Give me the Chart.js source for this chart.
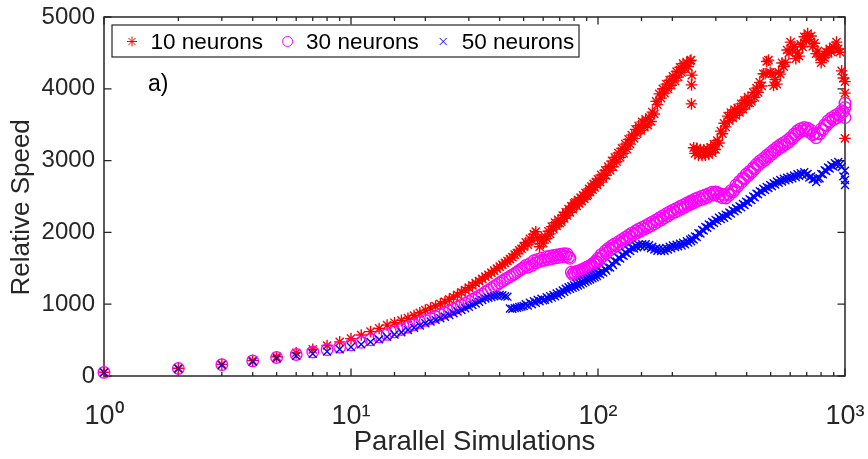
<!DOCTYPE html>
<html><head><meta charset="utf-8">
<script src="https://cdn.jsdelivr.net/npm/chart.js@4.4.1/dist/chart.umd.min.js"></script>
<style>html,body{margin:0;padding:0;background:#fff;}canvas{display:block;}</style>
</head><body>
<canvas id="c" width="868" height="459"></canvas>
<script>
// ---------------- data ----------------
const simulations = [
  1,2,3,4,5,6,7,8,9,10,
  11,12,13,14,15,16,17,18,19,20,
  21,22,23,24,25,26,27,28,29,30,
  31,32,33,34,35,36,37,38,39,40,
  41,42,43,44,45,46,47,48,49,50,
  51,52,53,54,55,56,57,58,59,60,
  61,62,63,64,65,66,67,68,69,70,
  71,72,73,74,75,76,77,78,79,80,
  81,82,83,84,85,86,87,88,89,90,
  91,92,93,94,95,96,97,98,99,100,
  102,103,105,107,108,110,112,114,115,117,
  119,121,123,125,127,129,131,133,135,137,
  140,142,144,146,149,151,154,156,159,161,
  164,166,169,172,174,177,180,183,186,189,
  192,195,198,201,205,208,211,215,218,221,
  225,229,232,236,238,240,244,247,251,255,
  260,264,268,272,277,281,286,290,295,299,
  304,309,314,319,324,329,335,340,345,351,
  357,362,368,374,380,386,392,398,405,411,
  418,425,431,438,445,452,460,467,475,482,
  490,498,506,514,522,530,539,547,556,565,
  574,583,593,602,612,622,632,642,652,662,
  673,684,695,706,717,729,740,752,764,776,
  789,801,814,827,840,854,867,881,895,910,
  924,939,954,969,985,1000
];
const speed10 = [
  52,108,162,215,268,322,372,425,475,520,
  570,618,662,708,742,775,805,842,880,918,
  945,975,1005,1035,1068,1100,1130,1165,1198,1230,
  1262,1295,1322,1352,1383,1410,1440,1468,1495,1522,
  1550,1575,1602,1628,1655,1690,1712,1750,1772,1805,
  1860,1830,1910,1885,1975,2010,1925,1800,1885,1850,
  1945,1915,2015,1980,2080,2045,2135,2090,2175,2130,
  2150,2235,2195,2280,2235,2325,2280,2365,2325,2405,
  2420,2370,2450,2400,2485,2435,2515,2465,2550,2510,
  2525,2605,2560,2640,2595,2675,2625,2705,2660,2740,
  2700,2800,2750,2865,2795,2915,2865,2995,2915,3045,
  2985,3105,3045,3170,3100,3230,3160,3295,3230,3355,
  3310,3435,3375,3485,3420,3540,3465,3575,3495,3600,
  3545,3675,3650,3825,3780,3930,3870,4000,3940,4065,
  4000,4120,4050,4175,4110,4240,4165,4300,4230,4350,
  4280,4365,4310,4390,4400,4190,3180,3100,3170,3075,
  3155,3070,3150,3075,3160,3085,3185,3110,3225,3155,
  3280,3245,3410,3375,3520,3470,3620,3555,3670,3595,
  3710,3630,3730,3670,3790,3715,3840,3765,3885,3805,
  3825,3950,3880,4010,3950,4090,4040,4210,4210,4380,
  4400,4230,4210,4045,4130,4065,4230,4205,4360,4310,
  4370,4540,4500,4650,4545,4590,4420,4500,4455,4620,
  4585,4725,4675,4770,4685,4735,4590,4635,4490,4525,
  4445,4365,4445,4435,4515,4495,4555,4515,4585,4565,
  4650,4555,4510,4250,4150,4100
];
const speed10ExtraX = [239, 239, 1000, 1000];
const speed10ExtraY = [4055, 3790, 3940, 3310];

const speed30 = [
  50,105,158,210,258,300,335,368,402,435,
  470,505,545,580,615,648,680,712,745,775,
  800,828,855,880,905,932,958,985,1010,1040,
  1065,1090,1115,1140,1170,1195,1220,1248,1272,1298,
  1320,1345,1365,1385,1405,1425,1448,1470,1490,1510,
  1540,1515,1565,1540,1605,1575,1625,1595,1640,1610,
  1615,1660,1625,1670,1635,1680,1645,1686,1650,1690,
  1695,1660,1705,1668,1700,1655,1640,1445,1415,1440,
  1415,1455,1430,1468,1443,1482,1460,1498,1476,1515,
  1490,1530,1508,1550,1528,1572,1555,1600,1585,1640,
  1635,1690,1675,1740,1710,1775,1755,1815,1785,1840,
  1815,1870,1845,1900,1875,1930,1905,1960,1935,1990,
  1970,2020,1995,2045,2020,2070,2045,2095,2070,2120,
  2095,2145,2120,2175,2145,2200,2175,2230,2205,2260,
  2230,2285,2260,2310,2285,2335,2305,2360,2330,2380,
  2355,2410,2380,2430,2395,2440,2415,2465,2435,2485,
  2455,2505,2470,2520,2490,2540,2515,2560,2525,2565,
  2555,2505,2535,2485,2520,2480,2540,2520,2580,2565,
  2595,2660,2645,2710,2695,2760,2745,2810,2790,2850,
  2835,2900,2885,2950,2935,2995,2975,3030,3010,3070,
  3050,3110,3090,3150,3130,3185,3165,3220,3195,3250,
  3225,3280,3260,3320,3305,3370,3355,3415,3390,3445,
  3415,3460,3420,3450,3395,3420,3360,3375,3320,3380,
  3370,3440,3430,3500,3490,3555,3535,3595,3570,3625,
  3595,3650,3630,3695,3680,3740
];
const speed30ExtraX = [1000, 1000];
const speed30ExtraY = [3600, 3800];

const speed50 = [
  48,100,152,200,245,280,310,340,372,405,
  440,475,510,545,578,610,640,672,703,734,
  758,782,805,826,850,875,898,920,943,965,
  988,1010,1035,1058,1080,1090,1100,1110,1120,1128,
  1125,1110,1105,940,935,945,950,960,968,975,
  1000,980,1020,1000,1040,1020,1060,1040,1078,1056,
  1062,1098,1075,1113,1091,1130,1109,1148,1127,1167,
  1149,1191,1173,1215,1197,1235,1213,1251,1228,1265,
  1243,1281,1259,1297,1275,1314,1293,1332,1311,1350,
  1328,1366,1344,1382,1360,1398,1376,1414,1392,1430,
  1417,1455,1442,1489,1467,1515,1510,1565,1547,1600,
  1595,1645,1635,1685,1675,1720,1705,1755,1740,1785,
  1775,1815,1793,1830,1805,1837,1808,1837,1800,1823,
  1780,1800,1760,1780,1745,1772,1740,1771,1745,1783,
  1760,1800,1780,1817,1795,1830,1805,1841,1817,1855,
  1835,1877,1857,1900,1877,1915,1900,1945,1935,1990,
  1985,2035,2025,2075,2065,2110,2100,2145,2130,2175,
  2160,2205,2185,2225,2205,2247,2233,2277,2263,2310,
  2295,2337,2321,2365,2350,2395,2381,2427,2415,2462,
  2450,2500,2490,2540,2530,2575,2563,2607,2590,2633,
  2617,2660,2643,2685,2667,2709,2690,2730,2709,2747,
  2725,2763,2740,2777,2755,2793,2771,2809,2787,2825,
  2803,2837,2800,2815,2765,2780,2740,2745,2700,2745,
  2755,2815,2810,2865,2855,2905,2890,2935,2920,2963,
  2943,2980,2945,2910,2780,2660
];
const speed50ExtraX = [1000, 1000];
const speed50ExtraY = [2730, 2860];

const seriesLabels = ['10 neurons', '30 neurons', '50 neurons'];
const xTickLabels = {1: '10\u2070', 10: '10\u00B9', 100: '10\u00B2', 1000: '10\u00B3'};
const xTitle = 'Parallel Simulations';
const yTitle = 'Relative Speed';
const panelLabel = 'a)';

// ---------------- chart ----------------
const FONT = "'Liberation Sans', Arial, Helvetica, sans-serif";
const AXIS = '#262626';
Chart.defaults.font.family = FONT;

function pts(xs, ys) { return xs.map((x, i) => ({x: x, y: ys[i]})); }

const boxPlugin = {
  id: 'matlabBox',
  beforeDatasetsDraw(chart) {
    const ctx = chart.ctx, a = chart.chartArea;
    const xs = chart.scales.x, ys = chart.scales.y;
    ctx.save();
    ctx.strokeStyle = AXIS;
    ctx.lineWidth = 1.3;
    ctx.beginPath();
    xs.ticks.forEach(t => {
      const px = xs.getPixelForValue(t.value);
      const lg = Math.log10(t.value);
      const len = Math.abs(lg - Math.round(lg)) < 1e-9 ? 7.5 : 4;
      ctx.moveTo(px, a.bottom); ctx.lineTo(px, a.bottom - len);
      ctx.moveTo(px, a.top); ctx.lineTo(px, a.top + len);
    });
    ys.ticks.forEach(t => {
      const py = ys.getPixelForValue(t.value);
      ctx.moveTo(a.left, py); ctx.lineTo(a.left + 7.5, py);
      ctx.moveTo(a.right, py); ctx.lineTo(a.right - 7.5, py);
    });
    ctx.stroke();
    ctx.lineWidth = 1.5;
    ctx.strokeRect(a.left, a.top, a.right - a.left, a.bottom - a.top);
    ctx.restore();
  },
  afterDraw(chart) {
    const ctx = chart.ctx, a = chart.chartArea;
    ctx.save();
    // panel label
    ctx.font = '23px ' + FONT;
    ctx.fillStyle = '#000';
    ctx.textBaseline = 'middle';
    ctx.textAlign = 'left';
    ctx.fillText(panelLabel, a.left + 44, a.top + 68);
    // legend
    const bx = a.left + 8, by = a.top + 8, bw = 467, bh = 32;
    ctx.fillStyle = '#fff';
    ctx.fillRect(bx, by, bw, bh);
    ctx.strokeStyle = AXIS;
    ctx.lineWidth = 1.2;
    ctx.strokeRect(bx, by, bw, bh);
    chart.data.datasets.forEach((ds, i) => {
      const mx = bx + 20 + i * 155.6, my = by + 16.5;
      ctx.strokeStyle = ds.borderColor;
      ctx.fillStyle = 'rgba(0,0,0,0)';
      ctx.lineWidth = 1;
      Chart.helpers.drawPoint(ctx, {pointStyle: ds.pointStyle, radius: 5, borderWidth: 1, rotation: 0}, mx, my);
      ctx.fillStyle = '#000';
      ctx.font = '22.5px ' + FONT;
      ctx.fillText(ds.label, mx + 18.5, my + 1);
    });
    ctx.restore();
  }
};

new Chart(document.getElementById('c'), {
  type: 'scatter',
  data: {
    datasets: [
      {label: seriesLabels[0], data: pts(simulations, speed10).concat(pts(speed10ExtraX, speed10ExtraY)),
       pointStyle: 'star', pointRadius: 5.8, borderColor: '#FF0000', backgroundColor: 'rgba(0,0,0,0)', borderWidth: 1.4, order: 3, clip: false},
      {label: seriesLabels[1], data: pts(simulations, speed30).concat(pts(speed30ExtraX, speed30ExtraY)),
       pointStyle: 'circle', pointRadius: 5.8, borderColor: '#FF00FF', backgroundColor: 'rgba(0,0,0,0)', borderWidth: 1.3, order: 2, clip: false},
      {label: seriesLabels[2], data: pts(simulations, speed50).concat(pts(speed50ExtraX, speed50ExtraY)),
       pointStyle: 'crossRot', pointRadius: 5.6, borderColor: '#0000FF', backgroundColor: 'rgba(0,0,0,0)', borderWidth: 1.4, order: 1, clip: false}
    ]
  },
  options: {
    responsive: false,
    animation: false,
    events: [],
    layout: {padding: {top: 17, right: 23, left: 0, bottom: 0}},
    plugins: {legend: {display: false}, tooltip: {enabled: false}},
    scales: {
      x: {
        type: 'logarithmic', min: 1, max: 1000,
        grid: {display: false, drawTicks: false},
        border: {display: false},
        ticks: {
          autoSkip: false, maxRotation: 0, minRotation: 0, padding: 24,
          color: AXIS, font: {size: 27},
          callback: (v) => xTickLabels[v] || ''
        },
        title: {display: true, text: xTitle, color: AXIS, font: {size: 27.5}, padding: {top: 0, bottom: 0}},
        afterFit: (s) => { s.height = 83; s.paddingLeft = 0; s.paddingRight = 0; }
      },
      y: {
        min: 0, max: 5000,
        grid: {display: false, drawTicks: false},
        border: {display: false},
        ticks: {stepSize: 1000, padding: 9, color: AXIS, font: {size: 24}, callback: (v) => String(v)},
        title: {display: true, text: yTitle + '\u00A0\u00A0\u00A0', color: AXIS, font: {size: 26}, padding: {top: 6, bottom: 0}},
        afterFit: (s) => { s.width = 104; s.paddingTop = 0; s.paddingBottom = 0; }
      }
    }
  },
  plugins: [boxPlugin]
});
</script>
</body></html>
